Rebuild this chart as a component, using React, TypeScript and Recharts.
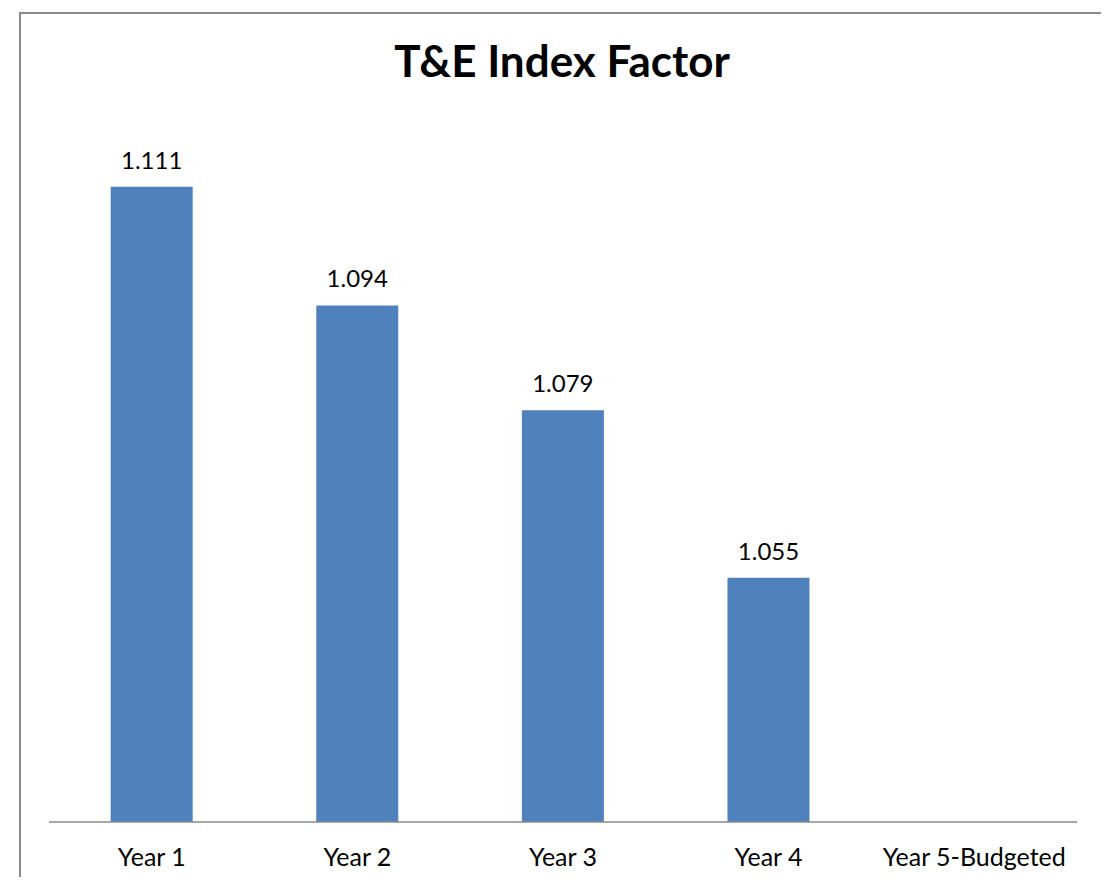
import React from "react";
import { BarChart, Bar, XAxis, YAxis, LabelList } from "recharts";

const categories = ["Year 1", "Year 2", "Year 3", "Year 4", "Year 5-Budgeted"];
const factorValues: (number | null)[] = [1.111, 1.094, 1.079, 1.055, null];
const yDomain: [number, number] = [1.02, 1.12];
const chartTitle = "T&E Index Factor";

const data = categories.map((name, i) => ({ name, value: factorValues[i] }));

const FONT = "Lato, 'Open Sans', sans-serif";

export default function App() {
  return (
    <div
      style={{
        position: "relative",
        width: 1109,
        height: 885,
        margin: -8,
        background: "#fff",
        overflow: "hidden",
        fontFamily: FONT,
      }}
    >
      <div
        style={{
          position: "absolute",
          left: 19,
          top: 12,
          width: 1089,
          height: 900,
          border: "2px solid #8a8a8a",
          borderBottom: "none",
          boxSizing: "border-box",
        }}
      />
      <div
        style={{
          position: "absolute",
          left: 0,
          width: 1124,
          top: 34,
          textAlign: "center",
          fontWeight: 700,
          fontSize: 44,
          lineHeight: "52px",
          color: "#000",
        }}
      >
        {chartTitle}
      </div>
      <div style={{ position: "absolute", left: 0, top: 0 }}>
        <BarChart
          width={1109}
          height={885}
          data={data}
          margin={{ top: 124, right: 32, bottom: 23, left: 49 }}
          barCategoryGap="30%"
        >
          <YAxis hide domain={yDomain} allowDataOverflow type="number" />
          <XAxis
            dataKey="name"
            height={40}
            tickLine={false}
            tickSize={0}
            tickMargin={26}
            axisLine={{ stroke: "#8a8a8a", strokeWidth: 1.5 }}
            tick={{ fill: "#000", fontSize: 25, fontFamily: FONT }}
            interval={0}
          />
          <Bar dataKey="value" fill="#4F81BD" isAnimationActive={false}>
            <LabelList
              dataKey="value"
              position="top"
              offset={18}
              fill="#000"
              fontSize={24}
              fontFamily={FONT}
              formatter={(v: any) => (v == null ? "" : Number(v).toFixed(3))}
            />
          </Bar>
        </BarChart>
      </div>
    </div>
  );
}
